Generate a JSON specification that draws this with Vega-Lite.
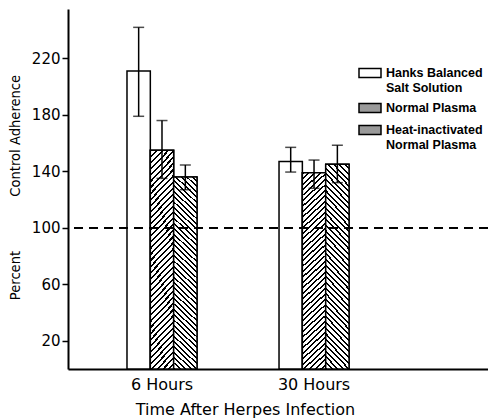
{
  "$schema": "https://vega.github.io/schema/vega-lite/v6.json",
  "autosize": {"type": "none"},
  "padding": {"left": 68, "top": 9, "right": 0, "bottom": 51},
  "width": 420,
  "height": 360,
  "background": "white",
  "config": {
    "view": {"stroke": null},
    "axis": {"domainColor": "black", "tickColor": "black", "labelColor": "black", "titleColor": "black", "grid": false}
  },
  "data": {
    "values": [
      {"time": "6 Hours", "series": "Hanks Balanced Salt Solution", "value": 211, "lo": 179, "hi": 242},
      {"time": "6 Hours", "series": "Normal Plasma", "value": 155, "lo": 135, "hi": 176},
      {"time": "6 Hours", "series": "Heat-inactivated Normal Plasma", "value": 136, "lo": 127, "hi": 144.5},
      {"time": "30 Hours", "series": "Hanks Balanced Salt Solution", "value": 147, "lo": 139.5, "hi": 157},
      {"time": "30 Hours", "series": "Normal Plasma", "value": 139, "lo": 128, "hi": 148},
      {"time": "30 Hours", "series": "Heat-inactivated Normal Plasma", "value": 145, "lo": 132, "hi": 158.5}
    ]
  },
  "layer": [
    {
      "encoding": {
        "x": {
          "field": "time", "type": "nominal",
          "scale": {"domain": ["6 Hours", "30 Hours"], "paddingInner": 0.5395, "paddingOuter": 0.651, "align": 0.298},
          "axis": {
            "title": "Time After Herpes Infection", "labelAngle": 0, "ticks": false, "domainWidth": 2,
            "labelFont": "DejaVu Sans", "labelFontSize": 16, "labelPadding": 7,
            "titleFont": "DejaVu Sans", "titleFontSize": 16, "titleFontWeight": "normal",
            "titleX": 177, "titleY": 40, "titleBaseline": "middle", "titleAlign": "center", "titleAnchor": null
          }
        },
        "xOffset": {
          "field": "series", "type": "nominal",
          "scale": {"domain": ["Hanks Balanced Salt Solution", "Normal Plasma", "Heat-inactivated Normal Plasma"], "paddingInner": 0, "paddingOuter": 0}
        },
        "y": {
          "field": "value", "type": "quantitative",
          "scale": {"domain": [0, 255], "nice": false},
          "axis": {
            "title": "Percent\u00a0\u00a0\u00a0\u00a0\u00a0\u00a0\u00a0\u00a0\u00a0\u00a0\u00a0\u00a0\u00a0Control Adherence",
            "values": [20, 60, 100, 140, 180, 220], "tickSize": 6, "tickWidth": 1.5, "domainWidth": 2,
            "labelFont": "DejaVu Sans", "labelFontSize": 15, "labelPadding": 2,
            "titleFont": "Liberation Sans Narrow, DejaVu Sans Condensed", "titleFontSize": 14.6, "titleFontWeight": "normal",
            "titleAngle": -90, "titleX": -53, "titleY": 178, "titleAlign": "center", "titleBaseline": "middle", "titleAnchor": null
          }
        }
      },
      "layer": [
        {
          "mark": {"type": "bar", "stroke": "black", "strokeWidth": 1.5},
          "encoding": {
            "fill": {
              "field": "series", "type": "nominal",
              "scale": {"domain": ["Hanks Balanced Salt Solution", "Normal Plasma", "Heat-inactivated Normal Plasma"], "range": ["white", "#9a9a9a", "#9a9a9a"]},
              "legend": {
                "title": null, "orient": "none", "legendX": 290, "legendY": 52,
                "symbolType": "M-1,-0.41H1V0.41H-1Z", "symbolSize": 484, "symbolStrokeColor": "black", "symbolStrokeWidth": 1.5, "symbolOpacity": 1,
                "labelFont": "Liberation Sans", "labelFontWeight": "bold", "labelFontSize": 12.5, "labelColor": "black",
                "labelLimit": 300, "labelOffset": 4, "rowPadding": 2,
                "labelExpr": "datum.label == 'Hanks Balanced Salt Solution' ? ['Hanks Balanced', 'Salt Solution'] : datum.label == 'Heat-inactivated Normal Plasma' ? ['Heat-inactivated', 'Normal Plasma'] : datum.label"
              }
            }
          }
        },
        {
          "transform": [{"filter": "datum.series === 'Normal Plasma'"}],
          "mark": {"type": "bar", "stroke": "black", "strokeWidth": 1.5, "fill": {"gradient": "linear", "x1": 0, "y1": 0, "x2": 0.1237, "y2": 1.0986, "stops": [
            {"offset": 0, "color": "#000"}, {"offset": 0.009, "color": "#000"}, {"offset": 0.009, "color": "#fff"}, {"offset": 0.025, "color": "#fff"},
            {"offset": 0.025, "color": "#000"}, {"offset": 0.034, "color": "#000"}, {"offset": 0.034, "color": "#fff"}, {"offset": 0.05, "color": "#fff"},
            {"offset": 0.05, "color": "#000"}, {"offset": 0.059, "color": "#000"}, {"offset": 0.059, "color": "#fff"}, {"offset": 0.075, "color": "#fff"},
            {"offset": 0.075, "color": "#000"}, {"offset": 0.084, "color": "#000"}, {"offset": 0.084, "color": "#fff"}, {"offset": 0.1, "color": "#fff"},
            {"offset": 0.1, "color": "#000"}, {"offset": 0.109, "color": "#000"}, {"offset": 0.109, "color": "#fff"}, {"offset": 0.125, "color": "#fff"},
            {"offset": 0.125, "color": "#000"}, {"offset": 0.134, "color": "#000"}, {"offset": 0.134, "color": "#fff"}, {"offset": 0.15, "color": "#fff"},
            {"offset": 0.15, "color": "#000"}, {"offset": 0.159, "color": "#000"}, {"offset": 0.159, "color": "#fff"}, {"offset": 0.175, "color": "#fff"},
            {"offset": 0.175, "color": "#000"}, {"offset": 0.184, "color": "#000"}, {"offset": 0.184, "color": "#fff"}, {"offset": 0.2, "color": "#fff"},
            {"offset": 0.2, "color": "#000"}, {"offset": 0.209, "color": "#000"}, {"offset": 0.209, "color": "#fff"}, {"offset": 0.225, "color": "#fff"},
            {"offset": 0.225, "color": "#000"}, {"offset": 0.234, "color": "#000"}, {"offset": 0.234, "color": "#fff"}, {"offset": 0.25, "color": "#fff"},
            {"offset": 0.25, "color": "#000"}, {"offset": 0.259, "color": "#000"}, {"offset": 0.259, "color": "#fff"}, {"offset": 0.275, "color": "#fff"},
            {"offset": 0.275, "color": "#000"}, {"offset": 0.284, "color": "#000"}, {"offset": 0.284, "color": "#fff"}, {"offset": 0.3, "color": "#fff"},
            {"offset": 0.3, "color": "#000"}, {"offset": 0.309, "color": "#000"}, {"offset": 0.309, "color": "#fff"}, {"offset": 0.325, "color": "#fff"},
            {"offset": 0.325, "color": "#000"}, {"offset": 0.334, "color": "#000"}, {"offset": 0.334, "color": "#fff"}, {"offset": 0.35, "color": "#fff"},
            {"offset": 0.35, "color": "#000"}, {"offset": 0.359, "color": "#000"}, {"offset": 0.359, "color": "#fff"}, {"offset": 0.375, "color": "#fff"},
            {"offset": 0.375, "color": "#000"}, {"offset": 0.384, "color": "#000"}, {"offset": 0.384, "color": "#fff"}, {"offset": 0.4, "color": "#fff"},
            {"offset": 0.4, "color": "#000"}, {"offset": 0.409, "color": "#000"}, {"offset": 0.409, "color": "#fff"}, {"offset": 0.425, "color": "#fff"},
            {"offset": 0.425, "color": "#000"}, {"offset": 0.434, "color": "#000"}, {"offset": 0.434, "color": "#fff"}, {"offset": 0.45, "color": "#fff"},
            {"offset": 0.45, "color": "#000"}, {"offset": 0.459, "color": "#000"}, {"offset": 0.459, "color": "#fff"}, {"offset": 0.475, "color": "#fff"},
            {"offset": 0.475, "color": "#000"}, {"offset": 0.484, "color": "#000"}, {"offset": 0.484, "color": "#fff"}, {"offset": 0.5, "color": "#fff"},
            {"offset": 0.5, "color": "#000"}, {"offset": 0.509, "color": "#000"}, {"offset": 0.509, "color": "#fff"}, {"offset": 0.525, "color": "#fff"},
            {"offset": 0.525, "color": "#000"}, {"offset": 0.534, "color": "#000"}, {"offset": 0.534, "color": "#fff"}, {"offset": 0.55, "color": "#fff"},
            {"offset": 0.55, "color": "#000"}, {"offset": 0.559, "color": "#000"}, {"offset": 0.559, "color": "#fff"}, {"offset": 0.575, "color": "#fff"},
            {"offset": 0.575, "color": "#000"}, {"offset": 0.584, "color": "#000"}, {"offset": 0.584, "color": "#fff"}, {"offset": 0.6, "color": "#fff"},
            {"offset": 0.6, "color": "#000"}, {"offset": 0.609, "color": "#000"}, {"offset": 0.609, "color": "#fff"}, {"offset": 0.625, "color": "#fff"},
            {"offset": 0.625, "color": "#000"}, {"offset": 0.634, "color": "#000"}, {"offset": 0.634, "color": "#fff"}, {"offset": 0.65, "color": "#fff"},
            {"offset": 0.65, "color": "#000"}, {"offset": 0.659, "color": "#000"}, {"offset": 0.659, "color": "#fff"}, {"offset": 0.675, "color": "#fff"},
            {"offset": 0.675, "color": "#000"}, {"offset": 0.684, "color": "#000"}, {"offset": 0.684, "color": "#fff"}, {"offset": 0.7, "color": "#fff"},
            {"offset": 0.7, "color": "#000"}, {"offset": 0.709, "color": "#000"}, {"offset": 0.709, "color": "#fff"}, {"offset": 0.725, "color": "#fff"},
            {"offset": 0.725, "color": "#000"}, {"offset": 0.734, "color": "#000"}, {"offset": 0.734, "color": "#fff"}, {"offset": 0.75, "color": "#fff"},
            {"offset": 0.75, "color": "#000"}, {"offset": 0.759, "color": "#000"}, {"offset": 0.759, "color": "#fff"}, {"offset": 0.775, "color": "#fff"},
            {"offset": 0.775, "color": "#000"}, {"offset": 0.784, "color": "#000"}, {"offset": 0.784, "color": "#fff"}, {"offset": 0.8, "color": "#fff"},
            {"offset": 0.8, "color": "#000"}, {"offset": 0.809, "color": "#000"}, {"offset": 0.809, "color": "#fff"}, {"offset": 0.825, "color": "#fff"},
            {"offset": 0.825, "color": "#000"}, {"offset": 0.834, "color": "#000"}, {"offset": 0.834, "color": "#fff"}, {"offset": 0.85, "color": "#fff"},
            {"offset": 0.85, "color": "#000"}, {"offset": 0.859, "color": "#000"}, {"offset": 0.859, "color": "#fff"}, {"offset": 0.875, "color": "#fff"},
            {"offset": 0.875, "color": "#000"}, {"offset": 0.884, "color": "#000"}, {"offset": 0.884, "color": "#fff"}, {"offset": 0.9, "color": "#fff"},
            {"offset": 0.9, "color": "#000"}, {"offset": 0.909, "color": "#000"}, {"offset": 0.909, "color": "#fff"}, {"offset": 0.925, "color": "#fff"},
            {"offset": 0.925, "color": "#000"}, {"offset": 0.934, "color": "#000"}, {"offset": 0.934, "color": "#fff"}, {"offset": 0.95, "color": "#fff"},
            {"offset": 0.95, "color": "#000"}, {"offset": 0.959, "color": "#000"}, {"offset": 0.959, "color": "#fff"}, {"offset": 0.975, "color": "#fff"},
            {"offset": 0.975, "color": "#000"}, {"offset": 0.984, "color": "#000"}, {"offset": 0.984, "color": "#fff"}, {"offset": 1, "color": "#fff"}
          ]}}
        },
        {
          "transform": [{"filter": "datum.series === 'Heat-inactivated Normal Plasma'"}],
          "mark": {"type": "bar", "stroke": "black", "strokeWidth": 1.5, "fill": {"gradient": "linear", "x1": 0, "y1": 1, "x2": 0.1297, "y2": -0.1024, "stops": [
            {"offset": 0, "color": "#000"}, {"offset": 0.009, "color": "#000"}, {"offset": 0.009, "color": "#fff"}, {"offset": 0.025, "color": "#fff"},
            {"offset": 0.025, "color": "#000"}, {"offset": 0.034, "color": "#000"}, {"offset": 0.034, "color": "#fff"}, {"offset": 0.05, "color": "#fff"},
            {"offset": 0.05, "color": "#000"}, {"offset": 0.059, "color": "#000"}, {"offset": 0.059, "color": "#fff"}, {"offset": 0.075, "color": "#fff"},
            {"offset": 0.075, "color": "#000"}, {"offset": 0.084, "color": "#000"}, {"offset": 0.084, "color": "#fff"}, {"offset": 0.1, "color": "#fff"},
            {"offset": 0.1, "color": "#000"}, {"offset": 0.109, "color": "#000"}, {"offset": 0.109, "color": "#fff"}, {"offset": 0.125, "color": "#fff"},
            {"offset": 0.125, "color": "#000"}, {"offset": 0.134, "color": "#000"}, {"offset": 0.134, "color": "#fff"}, {"offset": 0.15, "color": "#fff"},
            {"offset": 0.15, "color": "#000"}, {"offset": 0.159, "color": "#000"}, {"offset": 0.159, "color": "#fff"}, {"offset": 0.175, "color": "#fff"},
            {"offset": 0.175, "color": "#000"}, {"offset": 0.184, "color": "#000"}, {"offset": 0.184, "color": "#fff"}, {"offset": 0.2, "color": "#fff"},
            {"offset": 0.2, "color": "#000"}, {"offset": 0.209, "color": "#000"}, {"offset": 0.209, "color": "#fff"}, {"offset": 0.225, "color": "#fff"},
            {"offset": 0.225, "color": "#000"}, {"offset": 0.234, "color": "#000"}, {"offset": 0.234, "color": "#fff"}, {"offset": 0.25, "color": "#fff"},
            {"offset": 0.25, "color": "#000"}, {"offset": 0.259, "color": "#000"}, {"offset": 0.259, "color": "#fff"}, {"offset": 0.275, "color": "#fff"},
            {"offset": 0.275, "color": "#000"}, {"offset": 0.284, "color": "#000"}, {"offset": 0.284, "color": "#fff"}, {"offset": 0.3, "color": "#fff"},
            {"offset": 0.3, "color": "#000"}, {"offset": 0.309, "color": "#000"}, {"offset": 0.309, "color": "#fff"}, {"offset": 0.325, "color": "#fff"},
            {"offset": 0.325, "color": "#000"}, {"offset": 0.334, "color": "#000"}, {"offset": 0.334, "color": "#fff"}, {"offset": 0.35, "color": "#fff"},
            {"offset": 0.35, "color": "#000"}, {"offset": 0.359, "color": "#000"}, {"offset": 0.359, "color": "#fff"}, {"offset": 0.375, "color": "#fff"},
            {"offset": 0.375, "color": "#000"}, {"offset": 0.384, "color": "#000"}, {"offset": 0.384, "color": "#fff"}, {"offset": 0.4, "color": "#fff"},
            {"offset": 0.4, "color": "#000"}, {"offset": 0.409, "color": "#000"}, {"offset": 0.409, "color": "#fff"}, {"offset": 0.425, "color": "#fff"},
            {"offset": 0.425, "color": "#000"}, {"offset": 0.434, "color": "#000"}, {"offset": 0.434, "color": "#fff"}, {"offset": 0.45, "color": "#fff"},
            {"offset": 0.45, "color": "#000"}, {"offset": 0.459, "color": "#000"}, {"offset": 0.459, "color": "#fff"}, {"offset": 0.475, "color": "#fff"},
            {"offset": 0.475, "color": "#000"}, {"offset": 0.484, "color": "#000"}, {"offset": 0.484, "color": "#fff"}, {"offset": 0.5, "color": "#fff"},
            {"offset": 0.5, "color": "#000"}, {"offset": 0.509, "color": "#000"}, {"offset": 0.509, "color": "#fff"}, {"offset": 0.525, "color": "#fff"},
            {"offset": 0.525, "color": "#000"}, {"offset": 0.534, "color": "#000"}, {"offset": 0.534, "color": "#fff"}, {"offset": 0.55, "color": "#fff"},
            {"offset": 0.55, "color": "#000"}, {"offset": 0.559, "color": "#000"}, {"offset": 0.559, "color": "#fff"}, {"offset": 0.575, "color": "#fff"},
            {"offset": 0.575, "color": "#000"}, {"offset": 0.584, "color": "#000"}, {"offset": 0.584, "color": "#fff"}, {"offset": 0.6, "color": "#fff"},
            {"offset": 0.6, "color": "#000"}, {"offset": 0.609, "color": "#000"}, {"offset": 0.609, "color": "#fff"}, {"offset": 0.625, "color": "#fff"},
            {"offset": 0.625, "color": "#000"}, {"offset": 0.634, "color": "#000"}, {"offset": 0.634, "color": "#fff"}, {"offset": 0.65, "color": "#fff"},
            {"offset": 0.65, "color": "#000"}, {"offset": 0.659, "color": "#000"}, {"offset": 0.659, "color": "#fff"}, {"offset": 0.675, "color": "#fff"},
            {"offset": 0.675, "color": "#000"}, {"offset": 0.684, "color": "#000"}, {"offset": 0.684, "color": "#fff"}, {"offset": 0.7, "color": "#fff"},
            {"offset": 0.7, "color": "#000"}, {"offset": 0.709, "color": "#000"}, {"offset": 0.709, "color": "#fff"}, {"offset": 0.725, "color": "#fff"},
            {"offset": 0.725, "color": "#000"}, {"offset": 0.734, "color": "#000"}, {"offset": 0.734, "color": "#fff"}, {"offset": 0.75, "color": "#fff"},
            {"offset": 0.75, "color": "#000"}, {"offset": 0.759, "color": "#000"}, {"offset": 0.759, "color": "#fff"}, {"offset": 0.775, "color": "#fff"},
            {"offset": 0.775, "color": "#000"}, {"offset": 0.784, "color": "#000"}, {"offset": 0.784, "color": "#fff"}, {"offset": 0.8, "color": "#fff"},
            {"offset": 0.8, "color": "#000"}, {"offset": 0.809, "color": "#000"}, {"offset": 0.809, "color": "#fff"}, {"offset": 0.825, "color": "#fff"},
            {"offset": 0.825, "color": "#000"}, {"offset": 0.834, "color": "#000"}, {"offset": 0.834, "color": "#fff"}, {"offset": 0.85, "color": "#fff"},
            {"offset": 0.85, "color": "#000"}, {"offset": 0.859, "color": "#000"}, {"offset": 0.859, "color": "#fff"}, {"offset": 0.875, "color": "#fff"},
            {"offset": 0.875, "color": "#000"}, {"offset": 0.884, "color": "#000"}, {"offset": 0.884, "color": "#fff"}, {"offset": 0.9, "color": "#fff"},
            {"offset": 0.9, "color": "#000"}, {"offset": 0.909, "color": "#000"}, {"offset": 0.909, "color": "#fff"}, {"offset": 0.925, "color": "#fff"},
            {"offset": 0.925, "color": "#000"}, {"offset": 0.934, "color": "#000"}, {"offset": 0.934, "color": "#fff"}, {"offset": 0.95, "color": "#fff"},
            {"offset": 0.95, "color": "#000"}, {"offset": 0.959, "color": "#000"}, {"offset": 0.959, "color": "#fff"}, {"offset": 0.975, "color": "#fff"},
            {"offset": 0.975, "color": "#000"}, {"offset": 0.984, "color": "#000"}, {"offset": 0.984, "color": "#fff"}, {"offset": 1, "color": "#fff"}
          ]}}
        },
        {
          "mark": {"type": "rule", "color": "black", "strokeWidth": 1.5},
          "encoding": {"y": {"field": "lo", "type": "quantitative"}, "y2": {"field": "hi"}}
        },
        {
          "mark": {"type": "tick", "color": "black", "thickness": 1.5, "size": 11},
          "encoding": {"y": {"field": "hi", "type": "quantitative"}}
        },
        {
          "mark": {"type": "tick", "color": "black", "thickness": 1.5, "size": 11},
          "encoding": {"y": {"field": "lo", "type": "quantitative"}}
        }
      ]
    },
    {
      "mark": {"type": "rule", "color": "black", "strokeWidth": 1.5, "strokeDash": [9, 6]},
      "encoding": {"y": {"datum": 100}}
    }
  ]
}
